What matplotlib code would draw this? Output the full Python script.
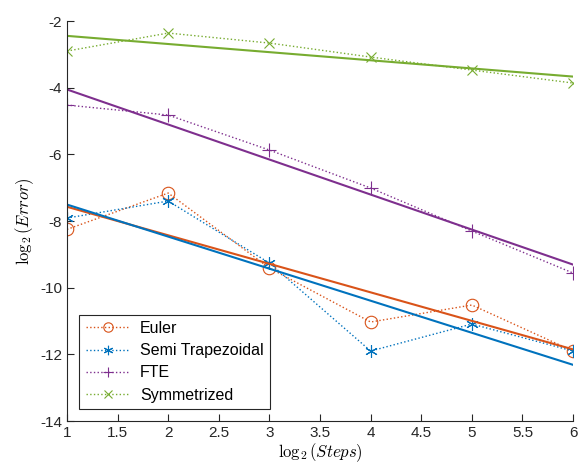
import numpy as np
import matplotlib
matplotlib.use('Agg')
import matplotlib.pyplot as plt

plt.rcParams['font.family'] = ['Liberation Sans', 'DejaVu Sans']
plt.rcParams['mathtext.fontset'] = 'cm'

steps = np.array([1, 2, 3, 4, 5, 6])
euler = [-8.25, -7.16, -9.41, -11.03, -10.52, -11.90]
semi_trap = [-7.91, -7.40, -9.26, -11.90, -11.09, -11.90]
fte = [-4.52, -4.82, -5.87, -7.01, -8.30, -9.56]
symmetrized = [-2.90, -2.36, -2.66, -3.08, -3.47, -3.86]

names = ['Euler', 'Semi Trapezoidal', 'FTE', 'Symmetrized']
series = [euler, semi_trap, fte, symmetrized]
colors = ['#D95319', '#0072BD', '#7E2F8E', '#77AC30']
markers = ['o', (6, 2, 0), '+', 'x']
msizes = [9, 9, 10, 7]

fig = plt.figure(figsize=(5.79, 4.68), dpi=100)
ax = fig.add_axes([0.1157, 0.1004, 0.874, 0.8546])

for name, ys, c, m, ms in zip(names, series, colors, markers, msizes):
    ax.plot(steps, ys, linestyle=':', color=c, marker=m, markersize=ms,
            markerfacecolor='none', markeredgecolor=c, markeredgewidth=0.8,
            linewidth=1.0, label=name)

# least squares fit lines
for ys, c in zip(series, colors):
    p = np.polyfit(steps, ys, 1)
    ax.plot(steps[[0, -1]], np.polyval(p, steps[[0, -1]]), '-', color=c, linewidth=1.5)

ax.set_xlim(1, 6)
ax.set_ylim(-14, -2)
ax.set_xticks(np.arange(1, 6.01, 0.5))
ax.set_xticklabels(['1', '1.5', '2', '2.5', '3', '3.5', '4', '4.5', '5', '5.5', '6'])
ax.set_yticks(np.arange(-14, -1, 2))
ax.set_yticklabels([str(v) for v in range(-14, -1, 2)])

ax.spines['right'].set_color('none')
ax.spines['top'].set_color('none')
for s in ['left', 'bottom']:
    ax.spines[s].set_color('#262626')
    ax.spines[s].set_linewidth(0.8)
ax.tick_params(direction='in', length=5, width=0.8, colors='#262626', labelsize=11)

ax.set_xlabel(r'$\log_2(Steps)$', fontsize=12, labelpad=1)
ax.set_ylabel(r'$\log_2(Error)$', fontsize=12, labelpad=3)

leg = ax.legend(loc='lower left', bbox_to_anchor=(0.024, 0.03), fontsize=11.5,
                fancybox=False, edgecolor='#262626', framealpha=1,
                handlelength=2.8, handletextpad=0.6, markerscale=0.75,
                borderpad=0.4, labelspacing=0.45, borderaxespad=0)
leg.get_frame().set_linewidth(0.8)

fig.savefig('out.png', dpi=100)
